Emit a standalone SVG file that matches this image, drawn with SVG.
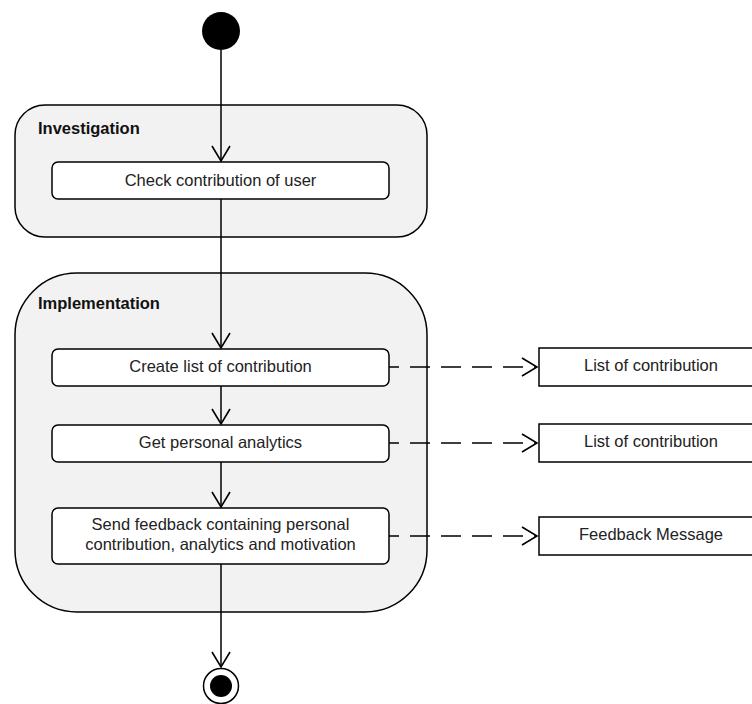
<svg xmlns="http://www.w3.org/2000/svg" width="752" height="704" viewBox="0 0 752 704">
<defs>
<marker id="open" markerWidth="20" markerHeight="24" refX="16" refY="10" orient="auto" markerUnits="userSpaceOnUse" viewBox="0 0 20 20">
<path d="M1,1 L16,10 L1,19" fill="none" stroke="#000" stroke-width="1.6"/>
</marker>
</defs>
<style>
.group{fill:#f2f2f2;stroke:#000;stroke-width:1.5}
.act{fill:#fff;stroke:#000;stroke-width:1.5}
.obj{fill:#fff;stroke:#000;stroke-width:1.5}
.t{font-family:"Liberation Sans",Arial,sans-serif;font-size:16.5px;fill:#222;text-anchor:middle}
.h{font-family:"Liberation Sans",Arial,sans-serif;font-size:16.5px;font-weight:bold;fill:#111}
.flow{fill:none;stroke:#000;stroke-width:1.5;marker-end:url(#open)}
.dep{fill:none;stroke:#000;stroke-width:1.5;stroke-dasharray:20 11;stroke-dashoffset:10;marker-end:url(#open)}
</style>
<g id="investigation">
<rect class="group" x="15" y="105" width="412" height="132" rx="30"/>
<text class="h" x="38" y="134">Investigation</text>
</g>
<g id="implementation">
<rect class="group" x="15" y="273" width="412" height="339" rx="62"/>
<text class="h" x="38" y="309">Implementation</text>
</g>
<g id="start">
<circle cx="221" cy="31" r="19" fill="#000"/>
</g>
<g id="check">
<rect class="act" x="52" y="162" width="337" height="37" rx="6"/>
<text class="t" x="220.5" y="186">Check contribution of user</text>
</g>
<g id="create">
<rect class="act" x="52" y="349" width="337" height="37" rx="6"/>
<text class="t" x="220.5" y="372">Create list of contribution</text>
</g>
<g id="analytics">
<rect class="act" x="52" y="425" width="337" height="37" rx="6"/>
<text class="t" x="220.5" y="448">Get personal analytics</text>
</g>
<g id="feedback">
<rect class="act" x="52" y="508" width="337" height="56" rx="6"/>
<text class="t" x="220.5" y="530">Send feedback containing personal</text>
<text class="t" x="220.5" y="550">contribution, analytics and motivation</text>
</g>
<g id="obj1">
<rect class="obj" x="539" y="348" width="220" height="38"/>
<text class="t" x="651" y="371">List of contribution</text>
</g>
<g id="obj2">
<rect class="obj" x="539" y="424" width="220" height="38"/>
<text class="t" x="651" y="447">List of contribution</text>
</g>
<g id="obj3">
<rect class="obj" x="539" y="517" width="220" height="38"/>
<text class="t" x="651" y="540">Feedback Message</text>
</g>
<g id="end">
<circle cx="221" cy="686" r="17.5" fill="#fff" stroke="#000" stroke-width="1.5"/>
<circle cx="221" cy="686" r="11" fill="#000"/>
</g>
<g id="connectors">
<path class="flow" d="M221,50 L221,161"/>
<path class="flow" d="M221,199 L221,348"/>
<path class="flow" d="M221,386 L221,424"/>
<path class="flow" d="M221,462 L221,507"/>
<path class="flow" d="M221,564 L221,667"/>
<path class="dep" d="M389,367 L537,367"/>
<path class="dep" d="M389,443 L537,443"/>
<path class="dep" d="M389,536 L537,536"/>
</g>
</svg>
